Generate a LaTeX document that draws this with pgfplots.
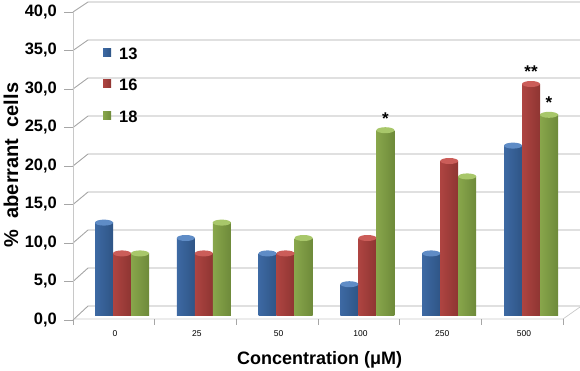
\documentclass[border=0pt]{standalone}
\usepackage{pgfplots}
\pgfplotsset{compat=1.18}
\usepackage{fontspec}
\setmainfont{Liberation Sans}
\usetikzlibrary{shapes.geometric}
\definecolor{bdark}{HTML}{3D69A3}
\definecolor{bmid}{HTML}{8DB1DF}
\definecolor{bright}{HTML}{2F5586}
\definecolor{bcap}{HTML}{5F8CC6}
\definecolor{rdark}{HTML}{AE4441}
\definecolor{rmid}{HTML}{E6948F}
\definecolor{rright}{HTML}{8E3532}
\definecolor{rcap}{HTML}{CB5D59}
\definecolor{gdark}{HTML}{88A64B}
\definecolor{gmid}{HTML}{CDE49A}
\definecolor{gright}{HTML}{6E8A3A}
\definecolor{gcap}{HTML}{A8C76A}
\definecolor{gridc}{HTML}{A6A6A6}
\definecolor{floorc}{HTML}{C8C8C8}
% one cylinder-like bar: #1 bar shift, #2 category, #3 value, #4 colour prefix
\newcommand\cyl[4]{%
  \addplot[forget plot, ybar, bar width=18pt, bar shift=#1, draw=none,
    left color=#4dark, middle color=#4mid, right color=#4right,
    nodes near coords={}, nodes near coords align={center},
    every node near coord/.style={shape=ellipse, minimum width=18pt, minimum height=6pt,
      inner sep=0pt, anchor=center, fill=#4cap, xshift=#1}]
    coordinates {(#2,#3)};}
\begin{document}
\begin{tikzpicture}[x=1pt,y=1pt]
\path[use as bounding box] (0,0) rectangle (580,370);
% back wall grid, left-wall diagonals and front ticks
\foreach \v in {0,5,...,40}{
  \draw[gridc, line width=0.9pt] (73,{50+7.7*\v}) -- (88,{64+7.6*\v}) -- (580,{64+7.6*\v});
  \draw[gridc, line width=0.7pt] (64,{50+7.7*\v}) -- (73,{50+7.7*\v});
}
\draw[floorc, line width=0.7pt] (73,50) -- (73,358);
\draw[floorc, line width=0.7pt] (73,51) -- (563,51) -- (580,63);
\foreach \k in {0,...,6}{
  \draw[gridc, line width=0.7pt] ({73+81.7*\k},51) -- ({73+81.7*\k},45);
}
\begin{axis}[
  at={(81.1pt,55pt)}, anchor=south west,
  scale only axis, width=490.8pt, height=308pt,
  xmin=-0.5, xmax=5.5, ymin=0, ymax=40,
  axis line style={draw=none},
  major tick length=0pt,
  xtick={0,1,2,3,4,5},
  xticklabels={0,25,50,100,250,500},
  xticklabel style={font=\fontsize{8.5}{10}\selectfont, anchor=center, yshift=-19pt, xshift=-7pt},
  ytick={0,5,...,40},
  yticklabel style={font=\bfseries\fontsize{16.5}{18}\selectfont, anchor=east, inner sep=0pt, xshift=-24pt, yshift=-5pt,
    /pgf/number format/.cd, fixed, fixed zerofill, precision=1, use comma, assume math mode=true},
  ylabel={\%\ \ aberrant\ \ cells},
  every axis y label/.style={at={(rel axis cs:-0.143,0.487)}, rotate=90, anchor=center, font=\bfseries\fontsize{20}{22}\selectfont},
  xlabel={Concentration (μM)},
  every axis x label/.style={at={(rel axis cs:0.486,-0.162)}, anchor=base, font=\bfseries\fontsize{18}{20}\selectfont},
  legend cell align=left,
  legend image code/.code={\fill[#1, draw=none] (0pt,-3pt) rectangle (8pt,5pt);},
  legend style={at={(rel axis cs:0.0446,0.870)}, anchor=north west, draw=none, fill=none, inner sep=0pt,
    column sep=8pt, row sep=19.6pt,
    nodes={inner sep=0pt, text height=12pt, text depth=0pt},
    font=\bfseries\fontsize{16.5}{18}\selectfont},
]
% series 13
\cyl{-18pt}{0}{12}{b}
\cyl{-18pt}{1}{10}{b}
\cyl{-18pt}{2}{8}{b}
\cyl{-18pt}{3}{4}{b}
\cyl{-18pt}{4}{8}{b}
\cyl{-18pt}{5}{22}{b}
% series 16
\cyl{0pt}{0}{8}{r}
\cyl{0pt}{1}{8}{r}
\cyl{0pt}{2}{8}{r}
\cyl{0pt}{3}{10}{r}
\cyl{0pt}{4}{20}{r}
\cyl{0pt}{5}{30}{r}
% series 18
\cyl{18pt}{0}{8}{g}
\cyl{18pt}{1}{12}{g}
\cyl{18pt}{2}{10}{g}
\cyl{18pt}{3}{24}{g}
\cyl{18pt}{4}{18}{g}
\cyl{18pt}{5}{26}{g}
\addlegendimage{left color=bdark, middle color=bmid, right color=bright}
\addlegendimage{left color=rdark, middle color=rmid, right color=rright}
\addlegendimage{left color=gdark, middle color=gmid, right color=gright}
\legend{13,16,18}
\node[anchor=base, font=\bfseries\fontsize{17}{18}\selectfont, inner sep=0pt, xshift=18pt, yshift=6pt] at (axis cs:3,24) {*};
\node[anchor=base, font=\bfseries\fontsize{17}{18}\selectfont, inner sep=0pt, xshift=0pt, yshift=7pt] at (axis cs:5,30) {**};
\node[anchor=base, font=\bfseries\fontsize{17}{18}\selectfont, inner sep=0pt, xshift=18pt, yshift=6pt] at (axis cs:5,26) {*};
\end{axis}
\end{tikzpicture}
\end{document}
